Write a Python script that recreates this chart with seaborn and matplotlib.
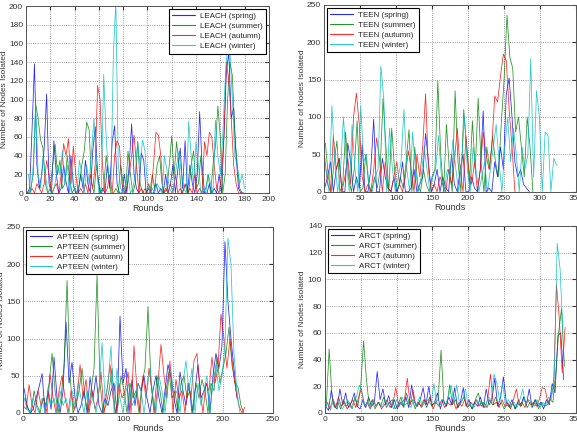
import matplotlib
matplotlib.use("Agg")
import matplotlib.pyplot as plt
import pandas as pd
import seaborn as sns

seasons = ["spring", "summer", "autumn", "winter"]
season_colors = ["#0000ff", "#008000", "#ff0000", "#00bfbf"]

# LEACH (every 2 rounds)
leach_spring = [0, 5, 68, 138, 30, 5, 20, 48, 106, 10, 0, 56, 20, 0, 5, 30, 12, 0, 40, 8,
                0, 0, 20, 5, 35, 10, 0, 45, 71, 20, 0, 5, 0, 30, 5, 55, 72, 10, 0, 0,
                20, 0, 30, 74, 20, 5, 0, 43, 35, 0, 5, 0, 0, 10, 0, 5, 0, 20, 0, 10,
                30, 0, 25, 48, 5, 56, 0, 30, 10, 0, 20, 87, 30, 0, 0, 10, 0, 5, 0, 20,
                0, 60, 130, 150, 80, 91, 40, 5, 0, 0]
leach_summer = [0, 5, 20, 95, 80, 57, 48, 10, 0, 5, 30, 52, 20, 35, 5, 10, 40, 15, 0, 5,
                0, 10, 30, 45, 76, 68, 10, 0, 30, 10, 0, 5, 40, 20, 0, 0, 5, 0, 30, 10,
                0, 45, 20, 0, 10, 55, 10, 0, 5, 0, 0, 20, 5, 30, 40, 10, 0, 5, 30, 61,
                20, 55, 30, 0, 5, 10, 0, 30, 45, 5, 10, 40, 0, 5, 20, 0, 30, 50, 93, 60,
                0, 20, 100, 140, 125, 60, 30, 5, 0, 0]
leach_autumn = [0, 0, 5, 0, 10, 5, 0, 10, 35, 20, 0, 5, 10, 0, 20, 53, 40, 58, 10, 50,
                20, 0, 5, 0, 10, 0, 20, 5, 30, 115, 100, 30, 0, 5, 20, 0, 40, 56, 50, 10,
                0, 5, 20, 40, 62, 30, 0, 5, 0, 0, 10, 0, 30, 65, 62, 40, 0, 5, 0, 10,
                0, 20, 0, 5, 0, 10, 0, 5, 0, 20, 0, 5, 0, 55, 40, 65, 60, 30, 5, 0,
                20, 60, 140, 120, 80, 30, 10, 0, 0, 0]
leach_winter = [20, 0, 30, 95, 20, 5, 40, 20, 0, 5, 0, 10, 30, 20, 45, 10, 30, 0, 20, 5,
                0, 35, 20, 0, 30, 10, 45, 80, 30, 0, 5, 127, 60, 20, 10, 150, 205, 30, 5, 0,
                10, 20, 0, 5, 20, 55, 30, 57, 45, 10, 0, 5, 0, 10, 5, 0, 40, 25, 5, 0,
                10, 30, 45, 20, 5, 0, 77, 40, 10, 55, 30, 0, 5, 0, 20, 10, 0, 78, 40, 20,
                60, 120, 160, 150, 100, 40, 28, 10, 20, 5]

# TEEN (every 4 rounds)
teen_spring = [5, 20, 40, 0, 30, 45, 0, 0, 65, 40, 0, 20, 5, 63, 0, 0, 30, 97, 0, 0,
               45, 20, 5, 0, 20, 0, 10, 40, 0, 0, 5, 30, 0, 10, 20, 78, 40, 0, 10, 30,
               0, 20, 5, 0, 50, 10, 0, 30, 50, 0, 0, 20, 5, 0, 30, 108, 0, 5, 0, 40,
               20, 60, 30, 130, 152, 100, 40, 20, 30, 10, 5, 0]
teen_summer = [65, 20, 0, 40, 68, 0, 10, 80, 20, 0, 30, 95, 0, 5, 50, 10, 0, 20, 5, 30,
               125, 60, 0, 85, 30, 0, 20, 5, 40, 83, 0, 60, 10, 0, 30, 10, 0, 20, 30, 148,
               50, 0, 90, 30, 0, 135, 40, 0, 110, 60, 10, 95, 30, 125, 40, 0, 60, 30, 75, 40,
               20, 90, 150, 236, 180, 165, 80, 100, 60, 20, 100, 60, 0]
teen_autumn = [45, 10, 0, 75, 30, 45, 0, 20, 45, 10, 100, 132, 90, 20, 0, 10, 0, 30, 72, 45,
               0, 40, 5, 0, 20, 40, 10, 0, 20, 55, 30, 0, 50, 20, 60, 131, 30, 0, 10, 0,
               20, 10, 0, 30, 10, 40, 85, 30, 0, 75, 30, 10, 40, 0, 30, 80, 50, 30, 60, 128,
               120, 155, 184, 175, 110, 60, 0]
teen_winter = [30, 0, 115, 40, 0, 30, 100, 40, 0, 90, 30, 0, 115, 40, 50, 0, 0, 20, 30, 168,
               125, 0, 85, 30, 0, 20, 40, 110, 30, 0, 80, 30, 0, 20, 60, 30, 0, 20, 30, 75,
               20, 0, 30, 20, 70, 30, 0, 40, 100, 30, 0, 60, 30, 0, 20, 40, 0, 30, 60, 90,
               40, 0, 60, 100, 40, 85, 50, 0, 60, 30, 50, 178, 20, 135, 100, 0, 80, 75, 0, 45,
               35]

# APTEEN (every 3 rounds)
apteen_spring = [33, 10, 0, 5, 20, 35, 53, 0, 30, 5, 75, 20, 0, 30, 122, 40, 68, 20, 0, 10,
                 30, 0, 48, 20, 50, 10, 0, 20, 10, 30, 40, 0, 130, 40, 60, 0, 45, 10, 40, 30,
                 50, 20, 0, 30, 50, 20, 0, 30, 65, 48, 20, 0, 55, 30, 10, 40, 0, 30, 65, 20,
                 30, 40, 0, 50, 80, 60, 90, 230, 150, 100, 60, 20]
apteen_summer = [20, 5, 0, 30, 10, 0, 20, 10, 40, 80, 30, 0, 20, 65, 178, 50, 0, 10, 30, 60,
                 20, 0, 30, 60, 185, 40, 0, 10, 30, 60, 0, 10, 50, 30, 0, 40, 20, 30, 0, 40,
                 60, 143, 40, 0, 50, 30, 0, 30, 55, 20, 30, 0, 40, 50, 20, 30, 0, 40, 20, 45,
                 30, 0, 40, 30, 75, 40, 60, 80, 115, 65, 40, 35, 10, 0]
apteen_autumn = [10, 5, 38, 10, 0, 30, 10, 20, 0, 52, 20, 0, 30, 50, 20, 0, 30, 5, 20, 65,
                 20, 45, 0, 30, 5, 20, 55, 0, 30, 65, 20, 0, 40, 20, 30, 55, 0, 90, 30, 0,
                 50, 20, 60, 30, 0, 40, 92, 50, 20, 70, 0, 45, 20, 30, 0, 40, 20, 70, 80, 30,
                 0, 40, 30, 75, 40, 60, 133, 100, 60, 100, 60, 30, 10, 0, 8]
apteen_winter = [20, 5, 0, 20, 10, 0, 20, 0, 35, 10, 20, 0, 30, 10, 20, 0, 30, 10, 40, 20,
                 0, 30, 10, 20, 0, 30, 95, 20, 40, 90, 0, 60, 20, 0, 30, 40, 10, 20, 40, 30,
                 0, 30, 60, 20, 0, 50, 30, 0, 40, 58, 20, 30, 0, 40, 70, 30, 60, 0, 40, 10,
                 30, 50, 0, 40, 65, 30, 50, 90, 235, 200, 80, 30, 0]

# ARCT (every 4 rounds)
arct_spring = [5, 2, 17, 5, 3, 18, 6, 15, 4, 8, 15, 5, 3, 10, 4, 12, 5, 8, 31, 10,
               18, 6, 13, 4, 10, 3, 8, 5, 12, 4, 21, 8, 5, 10, 19, 6, 20, 5, 8, 15,
               3, 10, 5, 12, 6, 19, 4, 8, 19, 5, 10, 3, 8, 5, 12, 4, 18, 6, 10, 26,
               5, 12, 27, 8, 5, 10, 3, 8, 5, 12, 6, 18, 4, 10, 5, 8, 3, 10, 6, 22,
               15, 58, 60, 25]
arct_summer = [5, 48, 12, 4, 8, 3, 10, 5, 8, 3, 12, 5, 20, 54, 25, 5, 10, 3, 8, 5,
               12, 4, 8, 10, 3, 6, 12, 4, 15, 6, 10, 3, 8, 5, 10, 4, 12, 6, 8, 10,
               47, 8, 5, 21, 6, 10, 4, 8, 12, 5, 6, 3, 10, 15, 5, 8, 4, 10, 6, 12,
               5, 8, 3, 6, 4, 8, 3, 10, 5, 12, 4, 8, 6, 10, 3, 8, 5, 6, 10, 8,
               30, 60, 78, 35]
arct_autumn = [8, 3, 10, 4, 12, 5, 8, 3, 6, 10, 4, 12, 18, 5, 8, 3, 10, 5, 8, 3,
               6, 10, 4, 8, 19, 5, 8, 10, 26, 6, 17, 5, 8, 4, 10, 6, 11, 3, 8, 5,
               10, 4, 8, 6, 10, 3, 8, 5, 10, 4, 8, 6, 10, 5, 8, 4, 10, 29, 6, 8,
               4, 10, 5, 8, 3, 10, 18, 6, 8, 4, 10, 6, 8, 5, 10, 19, 18, 8, 12, 20,
               96, 70, 30, 64]
arct_winter = [3, 8, 2, 10, 4, 8, 3, 6, 10, 4, 8, 12, 21, 15, 5, 8, 3, 10, 5, 8,
               4, 10, 6, 8, 3, 10, 5, 12, 6, 8, 4, 10, 6, 12, 5, 8, 10, 6, 22, 8,
               5, 10, 6, 12, 21, 8, 21, 6, 10, 18, 5, 8, 4, 10, 6, 8, 5, 12, 10, 29,
               22, 8, 22, 6, 10, 5, 8, 4, 10, 18, 6, 10, 8, 5, 10, 4, 8, 6, 12, 10,
               28, 127, 108, 60]

panels = [
    ("LEACH", [leach_spring, leach_summer, leach_autumn, leach_winter], [1, 2, 1, 2], 2,
     (0, 200), range(0, 201, 20), (0, 200), range(0, 201, 20), "upper right"),
    ("TEEN", [teen_spring, teen_summer, teen_autumn, teen_winter], [1, 2, 1, 3], 4,
     (0, 350), range(0, 351, 50), (0, 250), range(0, 251, 50), "upper left"),
    ("APTEEN", [apteen_spring, apteen_summer, apteen_autumn, apteen_winter], [1, 2, 0, 1], 3,
     (0, 250), range(0, 251, 50), (0, 250), range(0, 251, 50), "upper left"),
    ("ARCT", [arct_spring, arct_summer, arct_autumn, arct_winter], [1, 2, 3, 0], 4,
     (0, 350), range(0, 351, 50), (0, 140), range(0, 141, 20), "upper left"),
]

axes_pos = [
    [0.045, 0.553, 0.421, 0.433],
    [0.5615, 0.556, 0.437, 0.433],
    [0.040, 0.044, 0.433, 0.431],
    [0.563, 0.044, 0.435, 0.433],
]

sns.set_style("white")
plt.rcParams["font.family"] = ["Liberation Sans", "DejaVu Sans"]

fig = plt.figure(figsize=(5.77, 4.32), dpi=100)

for (name, series, starts, step, xlim, xticks, ylim, yticks, loc), pos in zip(panels, axes_pos):
    ax = fig.add_axes(pos)
    rows = []
    for season, vals, s in zip(seasons, series, starts):
        label = "{} ({})".format(name, season)
        for i, v in enumerate(vals):
            rows.append({"Rounds": s + i * step, "Nodes": v, "series": label})
    df = pd.DataFrame(rows)
    sns.lineplot(data=df, x="Rounds", y="Nodes", hue="series", palette=season_colors,
                 estimator=None, linewidth=0.55, alpha=0.85, ax=ax)
    ax.set_xlim(*xlim)
    ax.set_ylim(*ylim)
    ax.set_xticks(list(xticks))
    ax.set_yticks(list(yticks))
    ax.grid(True, linestyle=":", color="#808080", linewidth=0.6)
    ax.tick_params(direction="in", top=True, right=True, length=3, labelsize=6,
                   pad=2, colors="#333333")
    for sp in ax.spines.values():
        sp.set_color("#555555")
        sp.set_linewidth(0.7)
    ax.set_xlabel("Rounds", fontsize=6.5, labelpad=1, color="#333333")
    ax.set_ylabel("Number of Nodes Isolated", fontsize=6, labelpad=1, color="#333333")
    handles, labels = ax.get_legend_handles_labels()
    leg = ax.legend(handles, labels, loc=loc, fontsize=5.8, frameon=True, fancybox=False,
                    edgecolor="black", framealpha=1, handlelength=2.8, borderaxespad=0.4,
                    labelspacing=0.3, borderpad=0.4, handletextpad=0.6)
    leg.get_frame().set_linewidth(0.8)
    for h in leg.get_lines():
        h.set_linewidth(0.8)

fig.savefig("out.png", dpi=100)
